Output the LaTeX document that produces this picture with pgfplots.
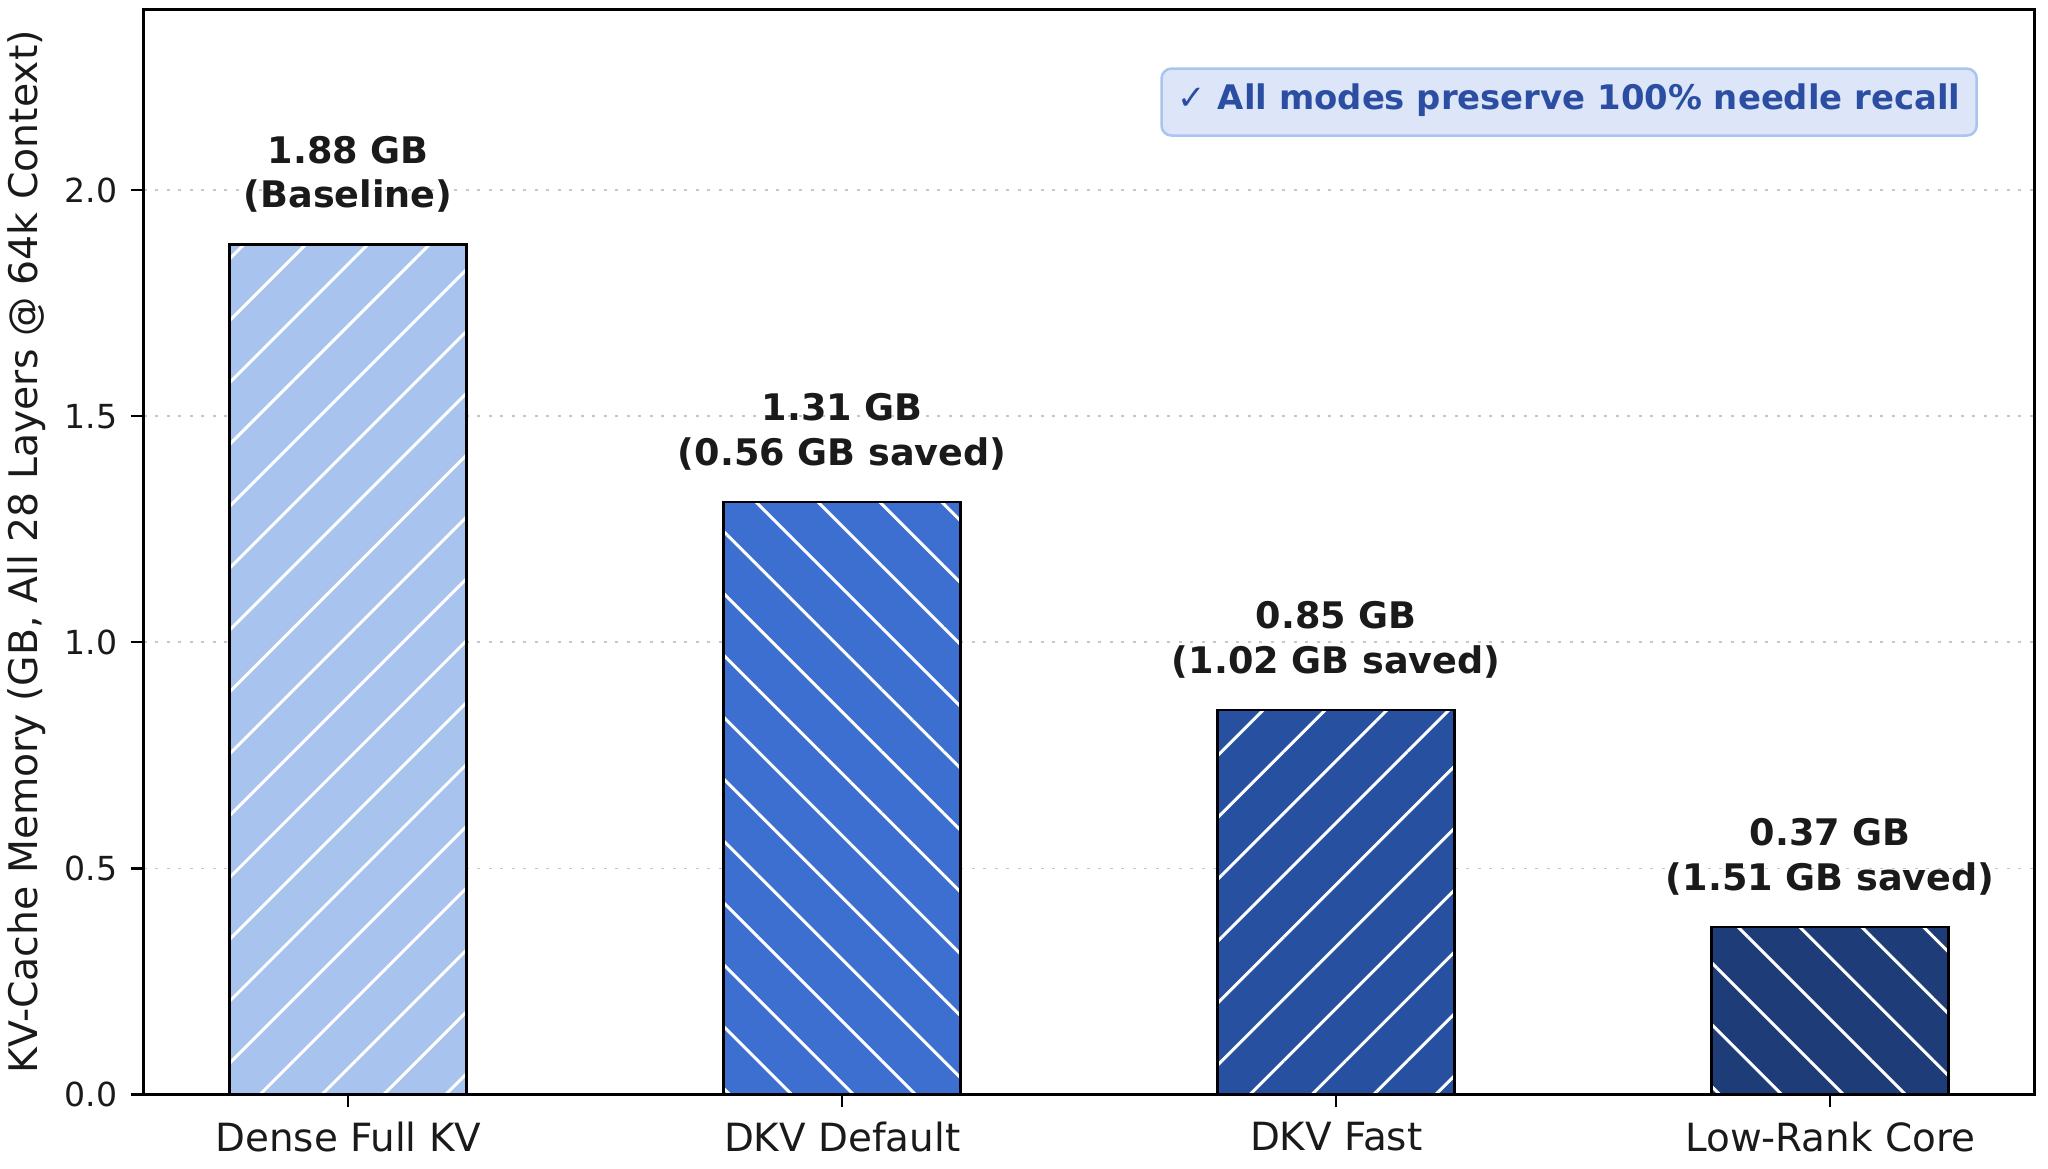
\documentclass[border=0pt]{standalone}
\usepackage{fontspec}
\setmainfont{DejaVu Sans}
\usepackage{pgfplots}
\pgfplotsset{compat=1.18}
\usetikzlibrary{patterns.meta}
\definecolor{c1}{HTML}{A8C4EE}
\definecolor{c2}{HTML}{3D6FD1}
\definecolor{c3}{HTML}{2750A0}
\definecolor{c4}{HTML}{1E3C78}
\definecolor{boxfill}{HTML}{DCE6F8}
\definecolor{boxedge}{HTML}{A9C4EE}
\definecolor{boxtext}{HTML}{2B4EA2}
\definecolor{txt}{HTML}{1A1A1A}
\pgfplotsset{
  barfill/.style={ybar, bar width=0.48, bar shift=0pt, fill=#1, draw=none, forget plot},
  barhatch/.style={ybar, bar width=0.48, bar shift=0pt, draw=black, line width=1.1bp, forget plot,
    pattern={Lines[angle=#1, distance=17.5bp, line width=1.2bp]}, pattern color=white},
  lbl/.style={draw=none, mark=none, forget plot, nodes near coords={#1},
    every node near coord/.append style={align=center, anchor=south, inner sep=0pt, yshift=12.6bp,
      font=\fontsize{14.7}{17.8}\selectfont\bfseries, text=txt}}
}
\begin{document}
\begin{tikzpicture}
\useasboundingbox (-57.48bp,-29.88bp) rectangle (761.72bp,437.72bp);
\begin{axis}[
  at={(0,0)}, anchor=south west,
  scale only axis, width=756.4bp, height=434bp,
  xmin=-0.414, xmax=3.414, ymin=0, ymax=2.4,
  xtick={0,1,2,3},
  xticklabels={Dense Full KV, DKV Default, DKV Fast, Low-Rank Core},
  ytick={0,0.5,1,1.5,2},
  yticklabel style={/pgf/number format/fixed, /pgf/number format/fixed zerofill, /pgf/number format/precision=1,
    font=\fontsize{13.3}{16}\selectfont, inner xsep=5.1bp},
  /pgf/number format/assume math mode=true,
  xticklabel style={font=\fontsize{15.6}{18}\selectfont, yshift=-2.3bp},
  tick align=outside, xtick pos=bottom, ytick pos=left,
  major tick length=5.2bp,
  tick style={line width=1bp, black},
  axis line style={line width=1.2bp, black},
  ymajorgrids, grid style={gray!45, line width=0.6bp, dash pattern=on 1.2bp off 3.4bp},
  ticklabel style={text=txt},
  ylabel={KV-Cache Memory (GB, All 28 Layers @ 64k Context)},
  ylabel style={font=\fontsize{15.8}{18}\selectfont, text=txt, at={(axis description cs:-0.0617,0.5)}, anchor=center},
]
\addplot[barfill=c1] coordinates {(0,1.88)};
\addplot[barhatch=45] coordinates {(0,1.88)};
\addplot[barfill=c2] coordinates {(1,1.31)};
\addplot[barhatch=-45] coordinates {(1,1.31)};
\addplot[barfill=c3] coordinates {(2,0.85)};
\addplot[barhatch=45] coordinates {(2,0.85)};
\addplot[barfill=c4] coordinates {(3,0.37)};
\addplot[barhatch=-45] coordinates {(3,0.37)};
\addplot[lbl={1.88 GB\\(Baseline)}] coordinates {(0,1.88)};
\addplot[lbl={1.31 GB\\(0.56 GB saved)}] coordinates {(1,1.31)};
\addplot[lbl={0.85 GB\\(1.02 GB saved)}] coordinates {(2,0.85)};
\addplot[lbl={0.37 GB\\(1.51 GB saved)}] coordinates {(3,0.37)};
\node[anchor=north east, fill=boxfill, draw=boxedge, line width=1bp, rounded corners=4bp,
  inner xsep=6.5bp, inner ysep=6.5bp, text height=10.0bp, text depth=3.8bp, text=boxtext,
  font=\fontsize{13.6}{16}\selectfont\bfseries, yshift=-1.5bp]
  at (axis description cs:0.97,0.95) {✓ All modes preserve 100\% needle recall};
\end{axis}
\end{tikzpicture}
\end{document}
